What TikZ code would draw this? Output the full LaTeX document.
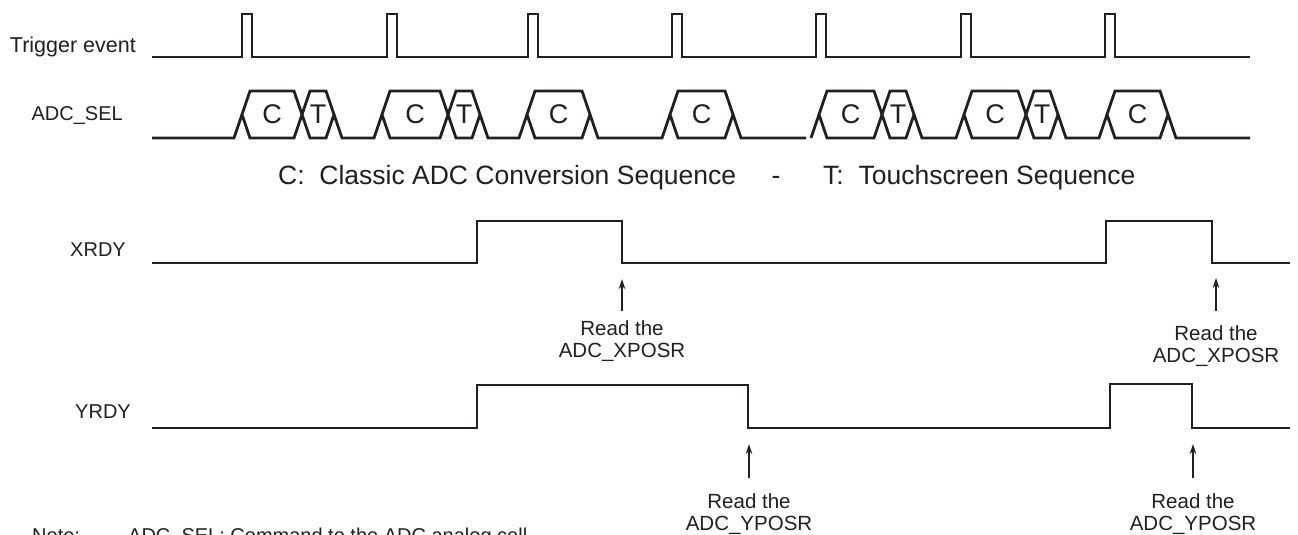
\documentclass[tikz,border=0pt]{standalone}
\usepackage{fontspec}
\setmainfont{Liberation Sans}
\usetikzlibrary{arrows.meta}
\definecolor{ink}{HTML}{231F20}
\begin{document}
\begin{tikzpicture}[x=1pt,y=-1pt,
  wave/.style={draw=ink,line width=2.8pt,line join=miter},
  rdarrow/.style={draw=ink,line width=1.4pt,-{Stealth[length=10pt,width=6.5pt]}},
  sig/.style={text=ink,font=\fontsize{20}{24}\selectfont,inner sep=0pt},
  cell/.style={text=ink,font=\fontsize{27}{30}\selectfont,inner sep=0pt},
  legend/.style={text=ink,font=\fontsize{26.5}{30}\selectfont,inner sep=0pt},
  rdtext/.style={text=ink,font=\fontsize{20.5}{21.5}\selectfont,inner sep=0pt,align=center}]
\clip (0,0) rectangle (1298,535);
\useasboundingbox (0,0) rectangle (1298,535);
\fill[white] (0,0) rectangle (1298,535);

% ---------- signal names ----------
\node[sig,anchor=east,font=\fontsize{21.5}{24}\selectfont] (ltrig) at (136,47) {Trigger event};
\node[sig,anchor=east] (lsel) at (123,116) {ADC\_SEL};
\node[sig,anchor=east] (lx) at (126,250) {XRDY};
\node[sig,anchor=east] (ly) at (131,412) {YRDY};

% ---------- trigger event ----------
\draw[wave] (152,57)
  -- (242,57) -- (242,14) -- (252,14) -- (252,57)
  -- (387,57) -- (387,14) -- (397,14) -- (397,57)
  -- (528,57) -- (528,14) -- (538,14) -- (538,57)
  -- (672,57) -- (672,14) -- (682,14) -- (682,57)
  -- (816,57) -- (816,14) -- (826,14) -- (826,57)
  -- (961,57) -- (961,14) -- (971,14) -- (971,57)
  -- (1105,57) -- (1105,14) -- (1115,14) -- (1115,57)
  -- (1250,57);

% ---------- ADC_SEL bus ----------
\newcommand\hexcell[4]{%
  \draw[wave] (#1,114.5) -- (#1+8,91) -- (#2-8,91) -- (#2,114.5) -- (#2-8,138) -- (#1+8,138) -- cycle;
  \node[cell] (#4) at ({(#1+#2)/2},114.5) {#3};}
\draw[wave] (152,138) -- (234,138) -- (242,114.5);
\hexcell{242}{302}{C}{c1}
\hexcell{302}{334}{T}{t1}
\draw[wave] (334,114.5) -- (342,138) -- (374,138) -- (382,114.5);
\hexcell{382}{448}{C}{c2}
\hexcell{448}{480}{T}{t2}
\draw[wave] (480,114.5) -- (488,138) -- (519,138) -- (527,114.5);
\hexcell{527}{590}{C}{c3}
\draw[wave] (590,114.5) -- (598,138) -- (662,138) -- (670,114.5);
\hexcell{670}{733}{C}{c4}
\draw[wave] (733,114.5) -- (741,138) -- (806,138);
\draw[wave] (811,138) -- (819,114.5);
\hexcell{819}{882}{C}{c5}
\hexcell{882}{914}{T}{t5}
\draw[wave] (914,114.5) -- (922,138) -- (956,138) -- (964,114.5);
\hexcell{964}{1026}{C}{c6}
\hexcell{1026}{1058}{T}{t6}
\draw[wave] (1058,114.5) -- (1066,138) -- (1099,138) -- (1107,114.5);
\hexcell{1107}{1168}{C}{c7}
\draw[wave] (1168,114.5) -- (1176,138) -- (1250,138);

% ---------- legend ----------
\node[legend,anchor=base west] (legc) at (278,184) {C:\ \ Classic ADC Conversion Sequence};
\node[legend,anchor=base] (legdash) at (776,184) {-};
\node[legend,anchor=base west] (legt) at (823,184) {T:\ \ Touchscreen Sequence};

% ---------- XRDY ----------
\draw[wave] (152,263) -- (477,263) -- (477,221) -- (622,221) -- (622,263)
  -- (1106,263) -- (1106,221) -- (1212,221) -- (1212,263) -- (1290,263);
\coordinate (xa1h) at (622,279);
\coordinate (xa1t) at (622,311);
\coordinate (xa2h) at (1216,278);
\coordinate (xa2t) at (1216,311);
\draw[rdarrow] (xa1t) -- (xa1h);
\draw[rdarrow] (xa2t) -- (xa2h);
\node[rdtext] (xr1) at (622,341) {Read the\\ADC\_XPOSR};
\node[rdtext] (xr2) at (1216,346) {Read the\\ADC\_XPOSR};

% ---------- YRDY ----------
\draw[wave] (152,428) -- (477,428) -- (477,385) -- (748,385) -- (748,428)
  -- (1110,428) -- (1110,384) -- (1192,384) -- (1192,428) -- (1290,428);
\coordinate (ya1h) at (749,444);
\coordinate (ya1t) at (749,478);
\coordinate (ya2h) at (1193,444);
\coordinate (ya2t) at (1193,478);
\draw[rdarrow] (ya1t) -- (ya1h);
\draw[rdarrow] (ya2t) -- (ya2h);
\node[rdtext] (yr1) at (749,514) {Read the\\ADC\_YPOSR};
\node[rdtext] (yr2) at (1193,514) {Read the\\ADC\_YPOSR};

% ---------- note (cut by the border, as in the original) ----------
\node[sig,anchor=base west] (note) at (32,542) {Note:};
\node[sig,anchor=base west] (notetxt) at (128,542) {ADC\_SEL: Command to the ADC analog cell};
\end{tikzpicture}
\end{document}
